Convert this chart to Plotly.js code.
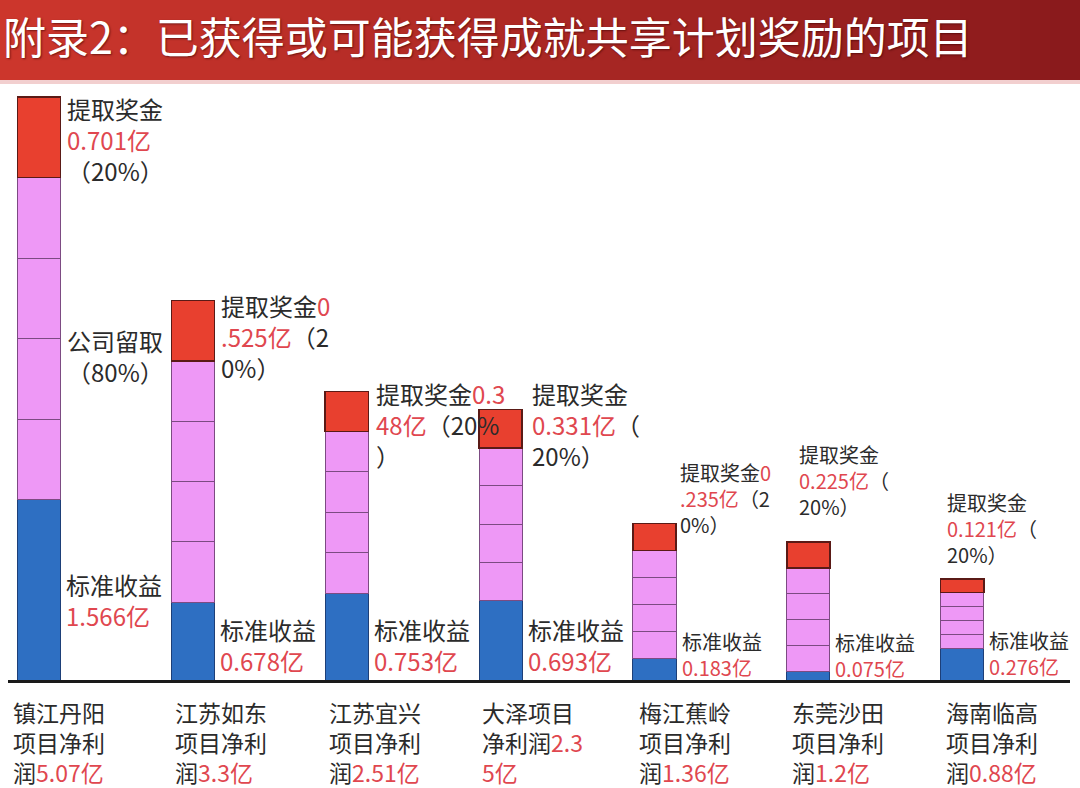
<!DOCTYPE html>
<html>
<head>
<meta charset="utf-8">
<script src="https://cdn.plot.ly/plotly-3.0.1.min.js"></script>
<style>
body { margin: 0; background: #fff; }
#plot { width: 1080px; height: 788px; }
</style>
</head>
<body>
<div id="plot"></div>
<script>
// project data (亿元)
var projects = ['镇江丹阳', '江苏如东', '江苏宜兴', '大泽', '梅江蕉岭', '东莞沙田', '海南临高'];
var netProfit = [5.07, 3.3, 2.51, 2.35, 1.36, 1.2, 0.88];
var standard = [1.566, 0.678, 0.753, 0.693, 0.183, 0.075, 0.276];
var retained = [2.803, 2.097, 1.409, 1.326, 0.942, 0.900, 0.483];
var bonus = [0.701, 0.525, 0.348, 0.331, 0.235, 0.225, 0.121];
var bonusPct = '20%';
var retainedPct = '80%';
var chartTitle = '附录2：已获得或可能获得成就共享计划奖励的项目';

var RED_TXT = '#e0474f';
var DARK_TXT = '#2b2b2b';
var FONT = 'Noto Sans CJK SC, Microsoft YaHei, sans-serif';

// wraps a plain string into lines, colouring one range red
function label(plain, redFrom, redTo, breaks) {
    var open = '<span style="color:' + RED_TXT + '">';
    var out = '', inRed = false;
    for (var i = 0; i < plain.length; i++) {
        if (i === redTo && inRed) { out += '</span>'; inRed = false; }
        if (breaks.indexOf(i) >= 0) {
            out += inRed ? '</span><br>' + open : '<br>';
        }
        if (i === redFrom) { out += open; inRed = true; }
        out += plain[i];
    }
    if (inRed) out += '</span>';
    return out;
}

// bars: blue base, pink retained split in 4, red bonus on top
var blue = {
    x: projects, y: standard, type: 'bar', width: 0.28,
    marker: { color: '#2e6fc2', line: { color: '#1d3f78', width: 1 } }
};
var traces = [blue];
for (var k = 0; k < 4; k++) {
    traces.push({
        x: projects, y: retained.map(function (v) { return v / 4; }), type: 'bar', width: 0.28,
        marker: { color: '#ee98f6', line: { color: '#7c4b82', width: 1 } }
    });
}
traces.push({
    x: projects, y: bonus, type: 'bar', width: 0.28,
    marker: { color: '#e8402f', line: { color: '#5a1a16', width: 1.5 } }
});

// label layout
var topBreaks = [[4, 10], [5, 12], [7, 14], [4, 11], [5, 12], [4, 11], [4, 11]];
var topX = [26, 26, 27, 29, 23, -11, -17];
var topY = [8, 14, 17, 36, 68, 104, 93];
var lblSize = [24, 24, 24, 24, 20, 20, 20];
var botY = [45, 0, 0, 0, -4, -5, -3];
var catX = [-28, -20, -20, -21, -18, -18, -18];

var annotations = [];
projects.forEach(function (p, i) {
    var b = bonus[i].toFixed(3);
    var topPlain = '提取奖金' + b + '亿（' + bonusPct + '）';
    annotations.push({
        x: p, y: netProfit[i], xref: 'x', yref: 'y',
        xanchor: 'left', yanchor: 'top', align: 'left',
        xshift: topX[i], yshift: topY[i], showarrow: false,
        text: label(topPlain, 4, 4 + b.length + 1, topBreaks[i]),
        font: { family: FONT, size: lblSize[i], color: DARK_TXT }
    });
    var s = standard[i].toFixed(3);
    var botPlain = '标准收益' + s + '亿';
    annotations.push({
        x: p, y: 0, xref: 'x', yref: 'y',
        xanchor: 'left', yanchor: 'bottom', align: 'left',
        xshift: 25, yshift: botY[i], showarrow: false,
        text: label(botPlain, 4, botPlain.length, [4]),
        font: { family: FONT, size: lblSize[i], color: DARK_TXT }
    });
    var catPlain = p + '项目净利润' + netProfit[i] + '亿';
    var redStart = p.length + 5;
    var catBreaks = p.length === 4 ? [4, 8] : [4, catPlain.length - 2];
    annotations.push({
        x: p, y: 0, xref: 'x', yref: 'y',
        xanchor: 'left', yanchor: 'top', align: 'left',
        xshift: catX[i], yshift: -13, showarrow: false,
        text: label(catPlain, redStart, catPlain.length, catBreaks),
        font: { family: FONT, size: 23, color: DARK_TXT }
    });
});

// 公司留取 label on the first bar
annotations.push({
    x: projects[0], y: standard[0] + retained[0] / 2, xref: 'x', yref: 'y',
    xanchor: 'left', yanchor: 'middle', align: 'left',
    xshift: 26, yshift: -17, showarrow: false,
    text: '公司留取<br>（' + retainedPct + '）',
    font: { family: FONT, size: 24, color: DARK_TXT }
});

// plot area in px: left 8, top 90, width 1062, height 590
function px(v) { return (v - 8) / 1062; }
function py(v) { return (680 - v) / 590; }

// title banner (stepped gradient)
var shapes = [];
var n = 36, c0 = [204, 54, 44], c1 = [138, 26, 28];
for (var s = 0; s < n; s++) {
    var t = s / (n - 1);
    var col = 'rgb(' + c0.map(function (c, j) { return Math.round(c + (c1[j] - c) * t); }).join(',') + ')';
    shapes.push({
        type: 'rect', xref: 'paper', yref: 'paper', layer: 'below',
        x0: px(s * 1080 / n), x1: px((s + 1) * 1080 / n + 1), y0: py(80), y1: py(0),
        fillcolor: col, line: { width: 0 }
    });
}
shapes.push({
    type: 'rect', xref: 'paper', yref: 'paper', layer: 'below',
    x0: px(0), x1: px(1080), y0: py(84), y1: py(80),
    fillcolor: '#f2cfcf', line: { width: 0 }
});

annotations.push({
    xref: 'paper', yref: 'paper', x: px(1), y: py(35),
    xanchor: 'left', yanchor: 'middle', showarrow: false,
    text: chartTitle,
    font: { family: FONT, size: 43, color: '#ffffff', shadow: '1px 1px 2px rgba(60,0,0,0.6)' }
});

var layout = {
    width: 1080, height: 788,
    margin: { l: 8, r: 10, t: 90, b: 108 },
    barmode: 'stack', bargap: 0,
    showlegend: false, hovermode: false,
    paper_bgcolor: '#ffffff', plot_bgcolor: '#ffffff',
    xaxis: {
        type: 'category', range: [-0.201, 6.7],
        showticklabels: false, ticks: '', showgrid: false, zeroline: false,
        showline: true, linecolor: '#1a1a1a', linewidth: 3
    },
    yaxis: {
        range: [0, 5.13], visible: false, showgrid: false, zeroline: false
    },
    shapes: shapes,
    annotations: annotations
};

Plotly.newPlot('plot', traces, layout, { displayModeBar: false, staticPlot: true });
</script>
</body>
</html>
